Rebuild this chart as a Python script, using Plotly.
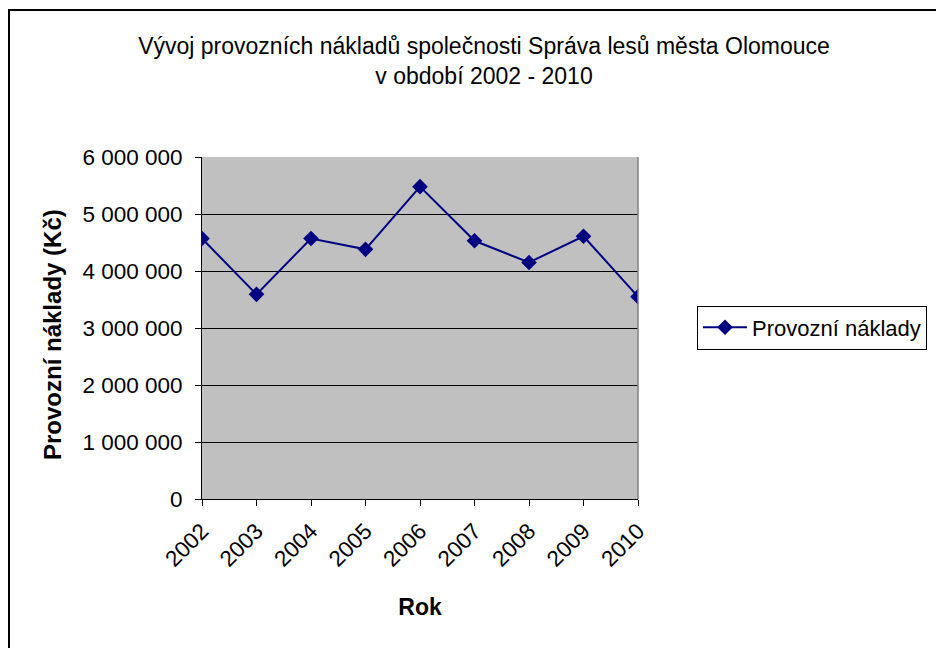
import plotly.graph_objects as go

years = [2002, 2003, 2004, 2005, 2006, 2007, 2008, 2009, 2010]
costs = [4570000, 3590000, 4570000, 4380000, 5480000, 4530000, 4150000, 4610000, 3550000]
ytick_vals = [0, 1000000, 2000000, 3000000, 4000000, 5000000, 6000000]
ytick_labels = ["0", "1 000 000", "2 000 000", "3 000 000", "4 000 000", "5 000 000", "6 000 000"]
series_name = "Provozní náklady"

# The page body has an 8px margin, so work in page pixels and shift.
OFF = 8
W, H = 944 - OFF, 648 - OFF
# plot area in page pixels: x 202..638, y 157..499
PL, PR, PT, PB = 202, 638, 157, 499
L = PL - OFF
T = PT - OFF
R = W - (PR - OFF)
B = H - (PB - OFF)
pw = PR - PL
ph = PB - PT

def px(x):  # page x -> paper
    return (x - PL) / pw

def py(y):  # page y -> paper
    return (PB - y) / ph

FONT = "Liberation Sans, Arial, sans-serif"
FS = 22.5

fig = go.Figure()
fig.add_trace(go.Scatter(
    x=years, y=costs, mode="lines+markers", name=series_name,
    line=dict(color="#000080", width=2),
    marker=dict(symbol="diamond", size=12, color="#000080"),
))

fig.update_layout(
    width=W, height=H,
    margin=dict(l=L, r=R, t=T, b=B, pad=0),
    paper_bgcolor="white",
    plot_bgcolor="#C0C0C0",
    font=dict(family=FONT, size=FS, color="black"),
    title=dict(
        text="Vývoj provozních nákladů společnosti Správa lesů města Olomouce<br>v období 2002 - 2010",
        xref="paper", x=px(484), xanchor="center",
        yref="container", y=1 - (54 - OFF) / H, yanchor="middle",
        font=dict(family=FONT, size=23, color="black"),
    ),
    showlegend=True,
    legend=dict(
        x=px(697), xanchor="left", y=py(327.5), yanchor="middle",
        bordercolor="black", borderwidth=1, bgcolor="white",
        itemwidth=44,
        font=dict(family=FONT, size=22, color="black"),
    ),
    xaxis=dict(
        range=[2002, 2010], tickvals=years, ticktext=[str(y) for y in years],
        tickangle=-45, ticks="outside", ticklen=6, tickcolor="black",
        ticklabelstandoff=3,
        showline=True, linecolor="black", linewidth=1, showgrid=False, zeroline=False,
        tickfont=dict(family=FONT, size=FS),
        title=dict(text="<b>Rok</b>", font=dict(family=FONT, size=23), standoff=28),
    ),
    yaxis=dict(
        range=[0, 6000000], tickvals=ytick_vals, ticktext=ytick_labels,
        ticks="outside", ticklen=6, tickcolor="black",
        ticklabelstandoff=8,
        showline=True, linecolor="black", linewidth=1,
        showgrid=True, gridcolor="black", gridwidth=1, zeroline=False,
        tickfont=dict(family=FONT, size=FS),
    ),
    annotations=[
        dict(text="<b>Provozní náklady (Kč)</b>", xref="paper", yref="paper",
             x=px(52), y=py(335), xanchor="center", yanchor="middle",
             textangle=-90, showarrow=False, font=dict(family=FONT, size=24)),
    ],
    shapes=[
        dict(type="line", xref="paper", yref="paper", x0=1, x1=1, y0=0, y1=1,
             line=dict(color="#808080", width=1.5)),
        dict(type="rect", xref="paper", yref="paper",
             x0=px(9), x1=px(980), y0=py(10), y1=py(700),
             line=dict(color="black", width=2), layer="below"),
    ],
)

fig.write_html("out.html")
